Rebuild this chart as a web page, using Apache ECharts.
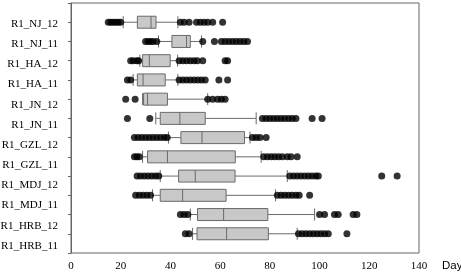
<!DOCTYPE html>
<html>
<head>
<meta charset="utf-8">
<script src="https://cdn.jsdelivr.net/npm/echarts@6/dist/echarts.min.js"></script>
<style>html,body{margin:0;padding:0;background:#fff;}#c{width:461px;height:276px;}</style>
</head>
<body>
<div id="c"></div>
<script>
// ---- data (top to bottom) ----
const labels = ['R1_NJ_12','R1_NJ_11','R1_HA_12','R1_HA_11','R1_JN_12','R1_JN_11','R1_GZL_12','R1_GZL_11','R1_MDJ_12','R1_MDJ_11','R1_HRB_12','R1_HRB_11'];
const lowWhisker  = [21,   35.2, 27.7, 25,   28.8, 34.1, 39.2, 28.8, 35.9, 32.8, 48,   48.9];
const q1          = [26.7, 40.6, 28.8, 26.7, 29.2, 35.9, 44.2, 30.8, 43.3, 35.9, 50.9, 50.7];
const median      = [32.2, 46.5, 31.5, 29,   30.8, 43.8, 52.7, 38.8, 50,   44.9, 61.4, 62.6];
const q3          = [34.2, 48,   39.9, 37.9, 38.8, 54,   69.8, 66.1, 66,   62.4, 79.2, 79.4];
const highWhisker = [43,   52.5, 42.9, 43,   55,   74.5, 72,   76.5, 87,   82.3, 98,   91];
const outliers = [
  [15,16,17,18,19,20, 44,45.5,47.5, 50.5,52,53.5,55,57, 61],
  [30,31,32,33,34.5, 53, 57.7, 60.5,62,63.5,65,66.5,68,69.5,71],
  [24,25,26.5,27.2, 43.5,45,46.5,48,49.5,50.8, 53, 62,63],
  [22.7,24, 43.5,45,46.5,48,49.5,51,52.5,54, 59.5,63],
  [22,25.8, 55,57,59,60.5,62],
  [22.7,31.7, 77,78.5,80,81.5,83,84.5,86,87.5,89,90.5, 97,101],
  [25.5,27,28.5,30,31.5,33,34.5,36,37.5,38.7, 73,74.5,76,78.5],
  [25.5,26.5,27.5, 77.5,79,80.5,82,83.5,85,87,88.5,91],
  [26.6,28,29.5,31,32.5,34,35.3, 88,89.5,91,92.5,94,95.5,97,98.5,99.5, 125,131.2],
  [26,27.5,29,30.5,32, 83,84.5,86,87.5,89,90.5,91.8, 96],
  [44,45.5,47, 100,102,106,107.5,113.5,115],
  [46,47.5, 91.5,93,94.5,96,97.5,99,100.5,102,103.5, 111]
];
const xMin = 0, xMax = 140, xStep = 20;
const xName = 'Day';

// ---- build ----
const yCats = [''].concat(labels, ['']);
const boxData = labels.map((l, i) => [i + 1, lowWhisker[i], q1[i], median[i], q3[i], highWhisker[i]]);
const outData = [];
outliers.forEach((arr, i) => arr.forEach(v => outData.push([v, i + 1])));

const axisColor = '#666';
const chart = echarts.init(document.getElementById('c'), null, {renderer: 'canvas'});
chart.setOption({
  animation: false,
  backgroundColor: '#fff',
  grid: [
    {left: 71, right: 42, top: 3, bottom: 23, show: true, borderColor: axisColor, borderWidth: 1, containLabel: false, outerBoundsMode: 'none'},
    {left: 71, right: 42, top: 14, bottom: 20, show: false, containLabel: false, outerBoundsMode: 'none'}
  ],
  xAxis: [
    {
      type: 'value', gridIndex: 0, min: xMin, max: xMax, interval: xStep,
      name: xName, nameLocation: 'end', nameGap: 23,
      nameTextStyle: {fontFamily: 'Liberation Sans', fontSize: 11.5, color: '#000', verticalAlign: 'top', padding: [7, 0, 0, 0], align: 'left'},
      axisLine: {lineStyle: {color: axisColor}},
      axisTick: {inside: true, length: 4, lineStyle: {color: axisColor}},
      splitLine: {show: false},
      axisLabel: {fontFamily: 'Liberation Serif', fontSize: 11, color: '#000', margin: 8}
    },
    {type: 'value', gridIndex: 1, min: 0, max: 1, show: false}
  ],
  yAxis: [
    {
      type: 'category', gridIndex: 0, data: yCats, inverse: true, boundaryGap: false,
      axisLine: {lineStyle: {color: axisColor}},
      axisTick: {show: true, length: 3, interval: 0, lineStyle: {color: axisColor}},
      axisLabel: {show: false, interval: 0},
      splitLine: {show: false}
    },
    {
      type: 'category', gridIndex: 1, data: labels, inverse: true, boundaryGap: true,
      axisLine: {show: false}, axisTick: {show: false}, splitLine: {show: false},
      axisLabel: {interval: 0, margin: 13, fontFamily: 'Liberation Serif', fontSize: 11, color: '#000'}
    }
  ],
  series: [
    {
      type: 'boxplot', xAxisIndex: 0, yAxisIndex: 0,
      data: boxData,
      encode: {y: 0, x: [1, 2, 3, 4, 5]},
      boxWidth: [12, 12],
      itemStyle: {color: '#c8c8c8', borderColor: '#6a6a6a', borderWidth: 1},
      emphasis: {disabled: true}
    },
    {
      type: 'scatter', xAxisIndex: 0, yAxisIndex: 0,
      data: outData, symbol: 'circle', symbolSize: 7,
      itemStyle: {color: '#000'}, z: 3
    }
  ]
});
</script>
</body>
</html>
